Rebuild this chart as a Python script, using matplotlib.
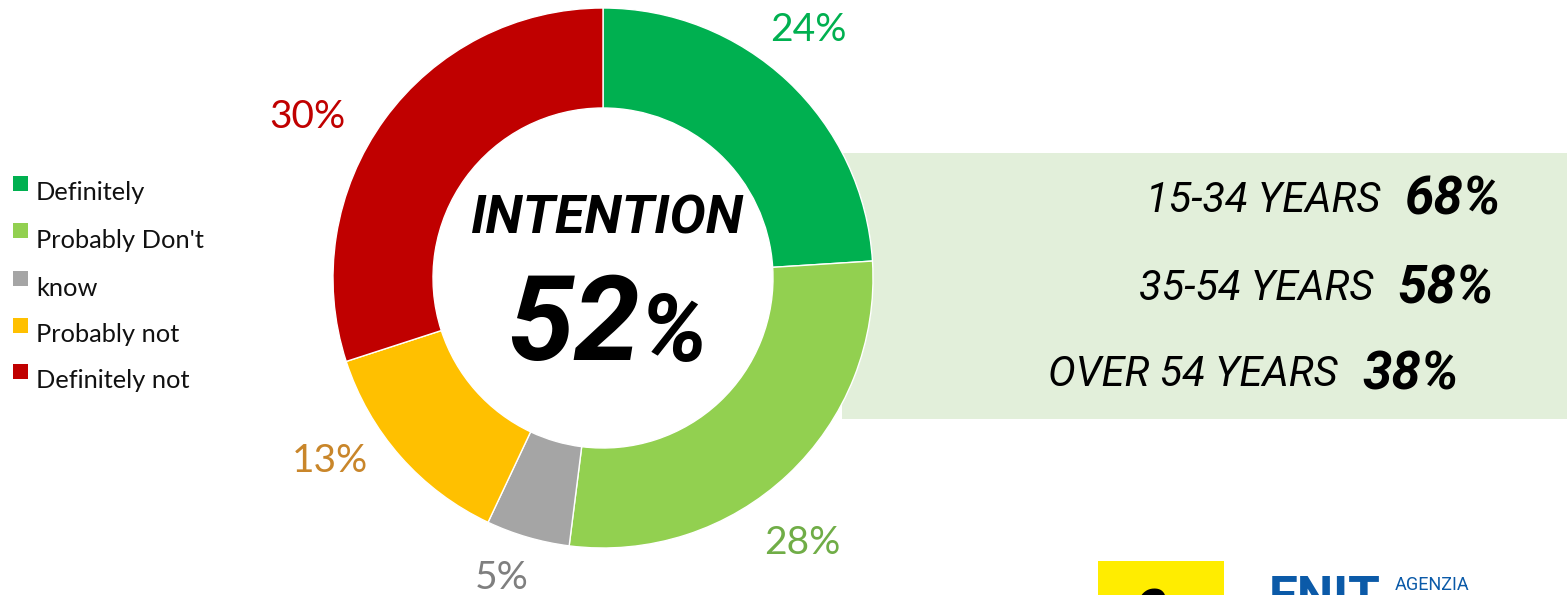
import matplotlib.pyplot as plt
from matplotlib.patches import Rectangle

W, H = 1567, 595

# Data
segments = ['Definitely', 'Probably', "Don't know", 'Probably not', 'Definitely not']
shares = [24, 28, 5, 13, 30]
seg_colors = ['#00B050', '#92D050', '#A5A5A5', '#FFC000', '#C00000']
label_colors = ['#00B050', '#70AD47', '#7F7F7F', '#C9862A', '#C00000']
legend_labels = ['Definitely', "Probably Don't", 'know', 'Probably not', 'Definitely not']
intention_total = 52
age_groups = ['15-34 YEARS', '35-54 YEARS', 'OVER 54 YEARS']
age_values = [68, 58, 38]

narrow = ['Roboto', 'DejaVu Sans']
soft = ['Lato', 'DejaVu Sans']


def Y(y):
    # image rows (from top) -> data y
    return H - y


fig = plt.figure(figsize=(W / 100, H / 100), dpi=100)
fig.patch.set_facecolor('white')
ax = fig.add_axes([0, 0, 1, 1])

# light green panel behind the donut
ax.add_patch(Rectangle((842, Y(419)), W - 842, 266, facecolor='#E2EFDA',
                       edgecolor='none', zorder=0))

wedges, _ = ax.pie(shares, colors=seg_colors, startangle=90, counterclock=False,
                   radius=270, center=(603, Y(278)),
                   wedgeprops=dict(width=100, edgecolor='white', linewidth=1))
for w in wedges:
    w.set_zorder(2)

ax.set_xlim(0, W)
ax.set_ylim(0, H)
ax.set_aspect('auto')
ax.axis('off')

# slice labels
label_pos = [(808, 30), (802, 543), (502, 578), (330, 461), (307, 117)]
for (x, y), v, c in zip(label_pos, shares, label_colors):
    ax.text(x, Y(y), f'{v}%', color=c, fontsize=28, family=soft,
            ha='center', va='center', zorder=3)

# legend
leg_rows = [193, 240, 288, 335, 381]
for y, lab, c in zip(leg_rows, legend_labels, seg_colors):
    ax.add_patch(Rectangle((13, Y(y - 2)), 15, 15, facecolor=c, edgecolor='none'))
    ax.text(36, Y(y), lab, fontsize=18.3, family=soft, ha='left', va='center',
            color='#111111')

# centre text
ax.text(607, Y(219), 'INTENTION', fontsize=39, family=narrow, weight='bold',
        style='italic', ha='center', va='center', zorder=3)
ax.text(640, Y(360), str(intention_total), fontsize=86, family=narrow,
        weight='bold', style='italic', ha='right', va='baseline', zorder=3)
ax.text(640, Y(361), '%', fontsize=68, family=narrow, weight='bold',
        style='italic', ha='left', va='baseline', zorder=3)

# age breakdown
age_rows = [(1380, 1405, 200), (1373, 1397, 289), (1338, 1362, 375)]
for (xr, xl, y), grp, v in zip(age_rows, age_groups, age_values):
    ax.text(xr, Y(y), grp, fontsize=30, family=narrow, style='italic',
            ha='right', va='center', zorder=3)
    ax.text(xl, Y(y), f'{v}%', fontsize=38, family=narrow, style='italic',
            weight='bold', ha='left', va='center', zorder=3)

# logos at the bottom (cut by the frame)
ax.add_patch(Rectangle((1098, Y(600)), 126, 39, facecolor='#FFED00',
                       edgecolor='none', zorder=1))
ax.text(1152, Y(576), 'e', fontsize=44, family=narrow, weight='bold',
        style='italic', ha='center', va='top', color='black', zorder=2)
ax.text(1269, Y(574), 'ENIT', fontsize=37, family=narrow, weight='bold',
        ha='left', va='top', color='#0B5AA8', zorder=2)
ax.text(1395, Y(576), 'AGENZIA', fontsize=13, family=narrow,
        ha='left', va='top', color='#0B5AA8', zorder=2)

fig.savefig('out.png', dpi=100, facecolor='white')
